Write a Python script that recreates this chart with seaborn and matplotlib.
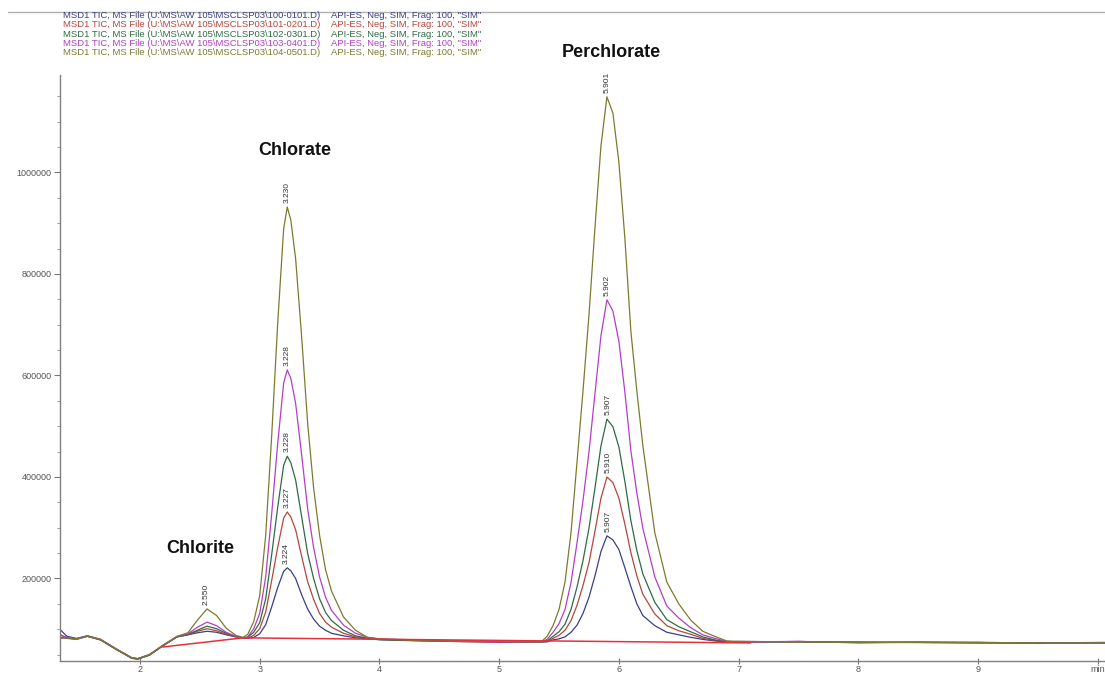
import numpy as np
import pandas as pd
import matplotlib
matplotlib.use("Agg")
import matplotlib.pyplot as plt
from matplotlib.lines import Line2D
from matplotlib.ticker import FixedLocator, MultipleLocator
import seaborn as sns

# retention time grid (min), shared by the five runs
time = [1.33, 1.39, 1.47, 1.56, 1.67, 1.81, 1.93, 1.98, 2.08, 2.19,
        2.31, 2.40, 2.48, 2.56, 2.64, 2.72, 2.80, 2.86,
        2.90, 2.95, 3.00, 3.05, 3.10, 3.15, 3.20, 3.23, 3.26, 3.30,
        3.35, 3.40, 3.45, 3.50, 3.55, 3.60, 3.70, 3.80, 3.90,
        4.00, 4.30, 4.60, 5.00, 5.30,
        5.35, 5.40, 5.45, 5.50, 5.55, 5.60, 5.65, 5.70, 5.75, 5.80,
        5.85, 5.90, 5.95, 6.00, 6.05, 6.10, 6.15, 6.20, 6.30, 6.40,
        6.50, 6.60, 6.70, 6.80, 6.90,
        7.00, 7.50, 8.00, 8.50, 9.00, 9.50, 10.06]

# TIC abundance (x1000)
tic_100 = [100, 86, 82, 87, 80, 60, 44, 42, 50, 68, 85, 89, 93, 96, 94, 89, 85, 83,
           82, 84, 91, 109, 144, 182, 214, 221, 215, 200, 168, 140, 120, 106, 98, 92, 87, 83, 81,
           80, 78, 76, 75, 75,
           75, 75, 79, 81, 85, 94, 108, 131, 163, 205, 253, 284, 276, 257, 221, 184, 150, 127,
           107, 94, 89, 84, 80, 77, 75,
           75, 75, 74, 74, 73, 73, 73]
tic_101 = [88, 84, 81, 86, 79, 59, 43, 41, 49, 67, 85, 89, 96, 101, 97, 90, 85, 83,
           82, 88, 101, 134, 196, 261, 319, 331, 321, 296, 244, 194, 159, 131, 114, 104, 92, 85, 82,
           80, 77, 76, 74, 75,
           75, 76, 82, 88, 98, 117, 147, 186, 231, 293, 358, 400, 389, 358, 307, 251, 205, 169,
           130, 107, 97, 90, 82, 78, 75,
           74, 76, 73, 75, 74, 72, 73]
tic_102 = [84, 82, 80, 86, 79, 59, 43, 41, 49, 67, 85, 90, 98, 106, 101, 92, 86, 83,
           84, 94, 113, 160, 247, 340, 423, 441, 428, 394, 322, 250, 200, 160, 133, 117, 98, 87, 82,
           79, 78, 77, 76, 75,
           75, 77, 86, 95, 110, 139, 183, 235, 299, 378, 461, 514, 499, 459, 391, 314, 255, 209,
           153, 119, 105, 95, 85, 79, 75,
           76, 75, 75, 74, 74, 73, 74]
tic_103 = [90, 83, 80, 87, 80, 60, 44, 42, 50, 68, 86, 91, 104, 114, 107, 94, 86, 83,
           85, 101, 131, 203, 327, 465, 585, 611, 594, 545, 444, 338, 261, 203, 163, 137, 108, 92, 84,
           81, 79, 77, 75, 75,
           75, 80, 94, 111, 139, 192, 270, 353, 449, 564, 678, 749, 727, 667, 567, 452, 368, 299,
           203, 146, 122, 103, 89, 82, 76,
           75, 76, 74, 74, 73, 73, 73]
tic_104 = [82, 83, 81, 87, 80, 60, 44, 42, 50, 68, 86, 93, 118, 140, 127, 102, 88, 84,
           90, 115, 166, 285, 481, 702, 889, 932, 906, 830, 677, 507, 379, 285, 217, 175, 124, 98, 84,
           81, 78, 77, 76, 75,
           75, 86, 107, 139, 193, 290, 429, 569, 719, 891, 1052, 1149, 1117, 1020, 870, 687, 569, 462,
           290, 193, 150, 118, 96, 86, 77,
           76, 75, 74, 74, 74, 73, 73]

files = ["100-0101", "101-0201", "102-0301", "103-0401", "104-0501"]
colors = ["#3a3f86", "#b4463c", "#2e6b45", "#b23fc4", "#7d7a2e"]

# integration baseline (red)
base_t = [2.19, 2.86, 7.10]
base_v = [65, 83, 73]

# retention time labels at the apexes
label_file = ["104-0501",
              "104-0501", "103-0401", "102-0301", "101-0201", "100-0101",
              "104-0501", "103-0401", "102-0301", "101-0201", "100-0101"]
label_rt = [2.550, 3.230, 3.228, 3.228, 3.227, 3.224,
            5.901, 5.902, 5.907, 5.910, 5.907]

compounds = ["Chlorite", "Chlorate", "Perchlorate"]
compound_t = [2.50, 3.295, 5.935]
compound_y = [260000, 1044000, 1237000]

series = [tic_100, tic_101, tic_102, tic_103, tic_104]
df = pd.concat([pd.DataFrame({"time": time, "abund": np.array(s) * 1000, "file": f})
                for f, s in zip(files, series)], ignore_index=True)

sns.set_style("white")
plt.rcParams["font.family"] = ["Liberation Sans", "DejaVu Sans"]

fig = plt.figure(figsize=(11.05, 6.75), dpi=100)
ax = fig.add_axes([60 / 1105, 14 / 675, 1 - 60 / 1105, 586 / 675])

sns.lineplot(data=df, x="time", y="abund", hue="file", palette=dict(zip(files, colors)),
             estimator=None, sort=False, linewidth=0.9, legend=False, ax=ax)
ax.plot(base_t, np.array(base_v) * 1000, color="#e8303c", linewidth=1.1)

for f, rt in zip(label_file, label_rt):
    d = df[(df["file"] == f) & (abs(df["time"] - rt) < 0.15)]
    ax.annotate(f"{rt:.3f}", xy=(rt, d["abund"].max()), xytext=(0, 3),
                textcoords="offset points", rotation=90, ha="center", va="bottom",
                fontsize=6, color="#333333")

for name, t, y in zip(compounds, compound_t, compound_y):
    ax.text(t, y, name, ha="center", va="center", fontsize=13, fontweight="bold",
            color="#111111", clip_on=False)

ax.set_xlim(1.332, 10.06)
ax.set_ylim(37400, 1192000)
ax.xaxis.set_major_locator(FixedLocator(range(2, 11)))
ax.set_xticklabels([str(i) for i in range(2, 10)] + ["min"])
ax.xaxis.set_minor_locator(MultipleLocator(0.2))
ax.yaxis.set_major_locator(FixedLocator([200000, 400000, 600000, 800000, 1000000]))
ax.set_yticklabels(["200000", "400000", "600000", "800000", "1000000"])
ax.yaxis.set_minor_locator(MultipleLocator(50000))
ax.tick_params(axis="both", which="major", labelsize=6.5, labelcolor="#555555",
               color="#777777", length=4, width=0.8)
ax.tick_params(axis="both", which="minor", color="#999999", length=2.5, width=0.7)
ax.tick_params(axis="x", which="both", direction="inout", pad=1)
ax.tick_params(axis="y", which="both", direction="out", left=True, pad=2)
ax.tick_params(axis="x", bottom=True)
ax.set_xlabel("")
ax.set_ylabel("")
for side in ["top", "right"]:
    ax.spines[side].set_visible(False)
for side in ["left", "bottom"]:
    ax.spines[side].set_color("#808080")
    ax.spines[side].set_linewidth(1.0)

# header with the data file names
fig.add_artist(Line2D([8 / 1105, 1], [1 - 12 / 675, 1 - 12 / 675], color="#b0b0b0", linewidth=1))
for i, (f, c) in enumerate(zip(files, colors)):
    y = 1 - (15.5 + 9.3 * i) / 675
    fig.text(63 / 1105, y, f"MSD1 TIC, MS File (U:\\MS\\AW 105\\MSCLSP03\\{f}.D)",
             fontsize=6.8, color=c, va="center")
    fig.text(331 / 1105, y, 'API-ES, Neg, SIM, Frag: 100, "SIM"',
             fontsize=6.8, color=c, va="center")

fig.savefig("out.png", dpi=100)
